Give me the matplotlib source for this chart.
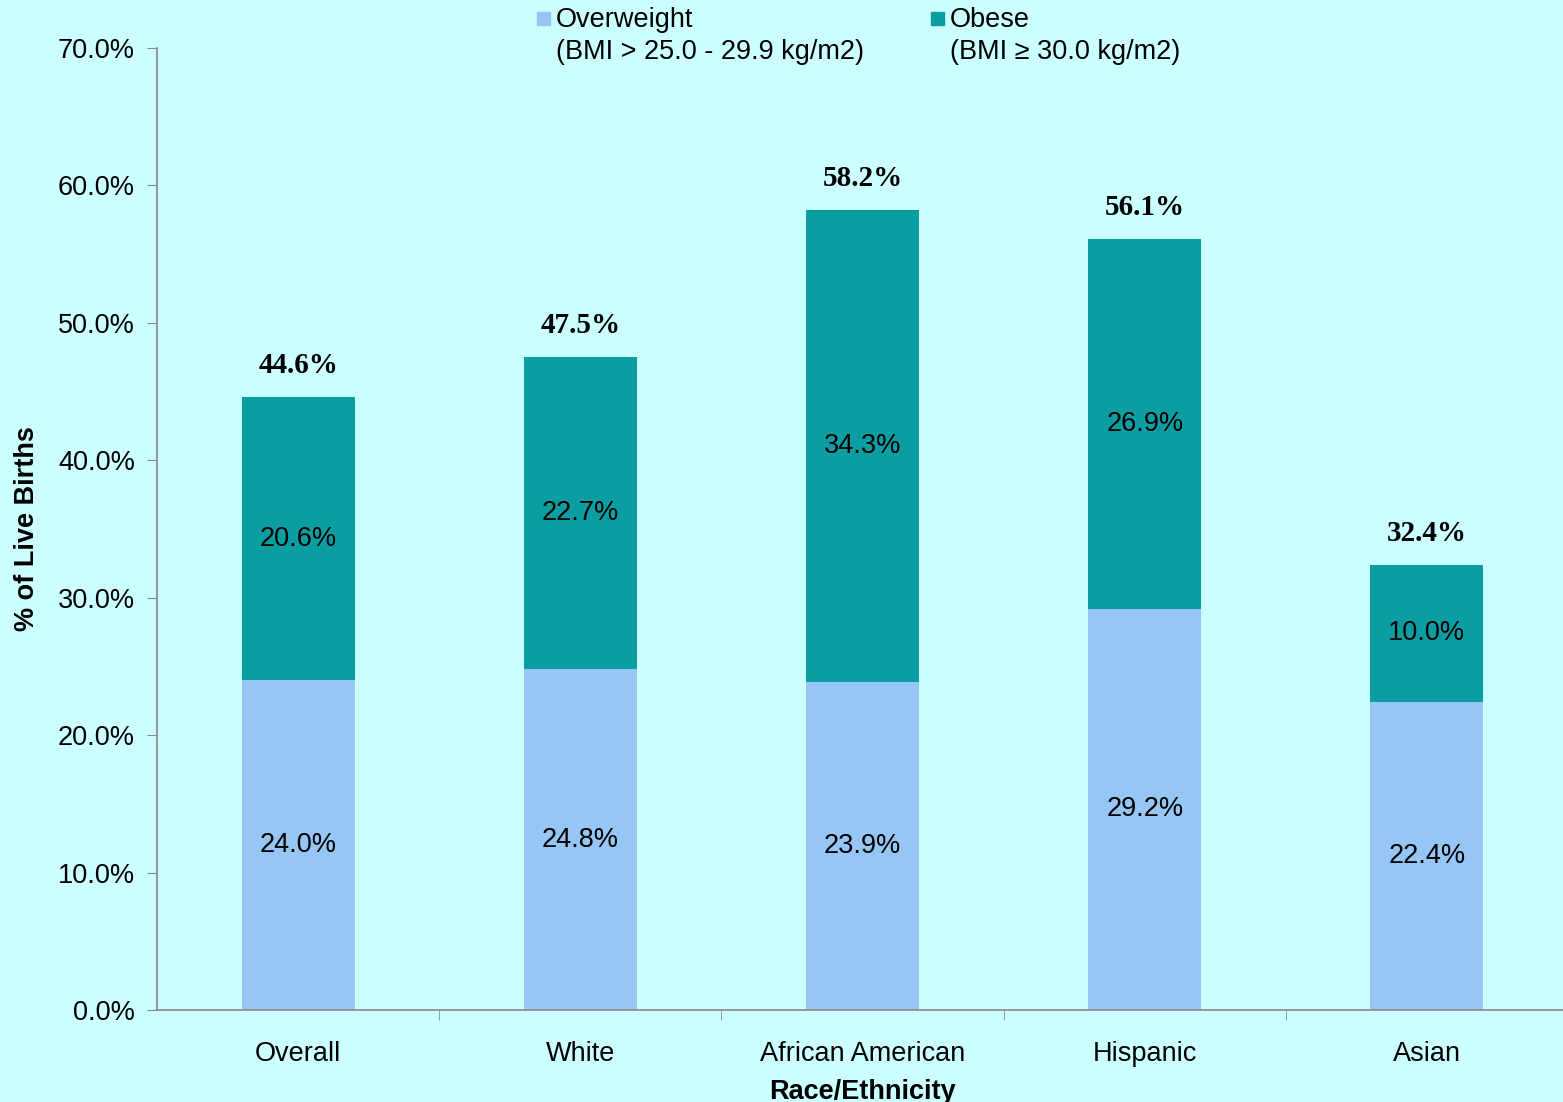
import numpy as np
import matplotlib.pyplot as plt
from matplotlib.patches import Rectangle

plt.rcParams['font.family'] = ['Liberation Sans', 'DejaVu Sans']

categories = ["Overall", "White", "African American", "Hispanic", "Asian"]
overweight = [24.0, 24.8, 23.9, 29.2, 22.4]
obese = [20.6, 22.7, 34.3, 26.9, 10.0]
totals = [44.6, 47.5, 58.2, 56.1, 32.4]

bg = '#CCFFFF'
c_over = '#95C6F5'
c_obese = '#0A9EA3'

W, H = 1563, 1102
fig = plt.figure(figsize=(15.63, 11.02), dpi=100, facecolor=bg)
ax = fig.add_axes([157 / W, 1 - 1010 / H, 1411 / W, (1010 - 48) / H])
ax.set_facecolor(bg)

x = np.arange(len(categories))
ax.bar(x, overweight, width=0.4, color=c_over)
ax.bar(x, obese, width=0.4, bottom=overweight, color=c_obese)

for i in range(len(categories)):
    ax.text(x[i], overweight[i] / 2, f"{overweight[i]:.1f}%", ha='center', va='center', fontsize=19.5)
    ax.text(x[i], overweight[i] + obese[i] / 2, f"{obese[i]:.1f}%", ha='center', va='center', fontsize=19.5)
    ax.text(x[i], totals[i] + 1.3, f"{totals[i]:.1f}%", ha='center', va='bottom', fontsize=21,
            fontweight='bold', family=['Liberation Serif', 'DejaVu Serif'])

ax.set_xlim(-0.5, len(categories) - 0.5)
ax.set_ylim(0, 70)
ax.set_yticks(np.arange(0, 71, 10))
ax.set_yticklabels([f"{v:.1f}%" for v in np.arange(0, 71, 10)], fontsize=19.5)
ax.set_xticks(x)
ax.set_xticklabels(categories, fontsize=19.5)
ax.set_xticks(np.arange(0.5, len(categories) - 0.5, 1), minor=True)
ax.tick_params(axis='x', which='major', length=0, pad=22)
ax.tick_params(axis='x', which='minor', length=7, color='#888888')
ax.tick_params(axis='y', length=7, color='#888888', pad=9)

for s in ['top', 'right']:
    ax.spines[s].set_visible(False)
for s in ['left', 'bottom']:
    ax.spines[s].set_color('#888888')
    ax.spines[s].set_linewidth(1.2)

ax.set_ylabel("% of Live Births", fontsize=19.5, fontweight='bold', labelpad=13)
ax.set_xlabel("Race/Ethnicity", fontsize=19.5, fontweight='bold', labelpad=9)

# legend drawn by hand so the squares line up with the first text line
for px, col, lines in [(537, c_over, "Overweight\n(BMI > 25.0 - 29.9 kg/m2)"),
                       (931, c_obese, "Obese\n(BMI \u2265 30.0 kg/m2)")]:
    fig.patches.append(Rectangle((px / W, 1 - 25 / H), 13 / W, 13 / H,
                                 transform=fig.transFigure, color=col))
    fig.text((px + 19) / W, 1 - 7 / H, lines, ha='left', va='top', fontsize=19.5, linespacing=1.28)

fig.savefig("out.png", dpi=100, facecolor=bg)
